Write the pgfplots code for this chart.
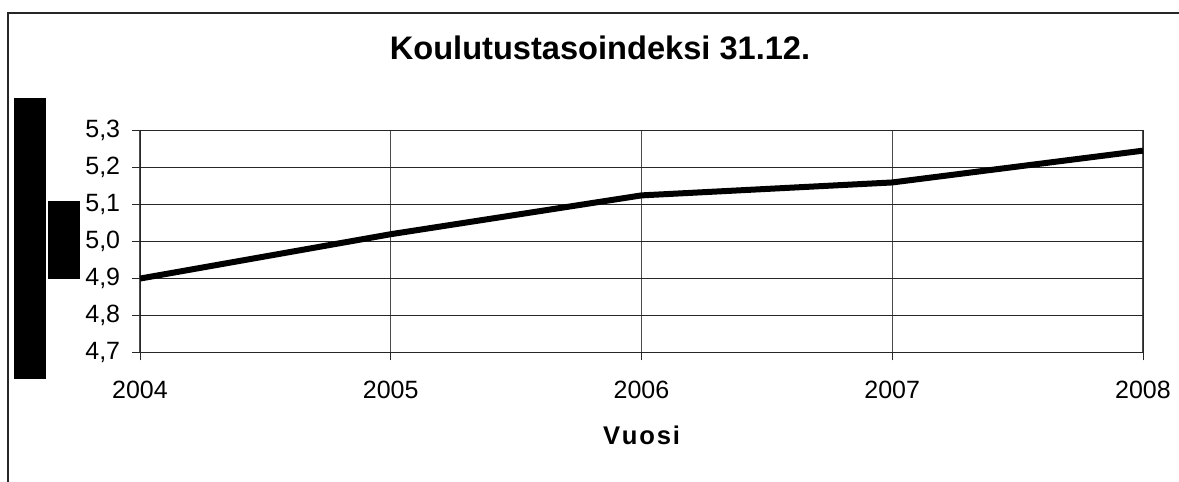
\documentclass[border=0pt]{standalone}
\usepackage{fontspec}
\setmainfont{Liberation Sans}
\usepackage{pgfplots}
\pgfplotsset{compat=1.18}
\begin{document}
\begin{tikzpicture}
\path[use as bounding box] (0pt,0pt) rectangle (589.5pt,241pt);
% outer frame (cropped)
\draw[line width=1pt, black!85] (4pt,0pt) -- (4pt,234.65pt) -- (589.5pt,234.65pt);
% black blocks
\fill[black] (7pt,51.65pt) rectangle (22.85pt,191.85pt);
\fill[black] (24.15pt,101.5pt) rectangle (40pt,140.5pt);
% title
\node[anchor=base, font=\fontsize{16.3}{19}\selectfont\bfseries] at (300pt,211pt) {Koulutustasoindeksi 31.12.};
\begin{axis}[
  at={(70pt,64.75pt)}, anchor=south west,
  scale only axis, width=501.5pt, height=110.9pt,
  xmin=2004, xmax=2008, ymin=4.7, ymax=5.3,
  xtick={2004,2005,2006,2007,2008},
  xticklabels={2004,2005,2006,2007,2008},
  ytick={4.7,4.8,4.9,5.0,5.1,5.2,5.3},
  yticklabel style={/pgf/number format/use comma, /pgf/number format/fixed, /pgf/number format/fixed zerofill, /pgf/number format/precision=1, /pgf/number format/assume math mode=true, xshift=-2.4pt, font=\fontsize{12.5}{15}\selectfont},
  xticklabel style={anchor=base, yshift=-19.05pt, font=\fontsize{12.5}{15}\selectfont},
  tick align=outside, tick pos=left, major tick length=4pt,
  tick style={black!85, line width=0.5pt},
  xmajorgrids, ymajorgrids,
  x grid style={black!70, line width=0.6pt},
  y grid style={black!85, line width=0.5pt},
  axis line style={black!85, line width=0.5pt},
  xlabel={\fontsize{12.8}{15}\selectfont\bfseries V\kern0.9pt u\kern0.9pt o\kern0.9pt s\kern0.9pt i},
  xlabel style={at={(axis description cs:0.5,0)}, anchor=base, yshift=-46.25pt},
  clip=false,
]
\addplot[black, line width=3pt] coordinates {
  (2004,4.90) (2005,5.02) (2006,5.125) (2007,5.16) (2008,5.246)
};
\end{axis}
\end{tikzpicture}
\end{document}
